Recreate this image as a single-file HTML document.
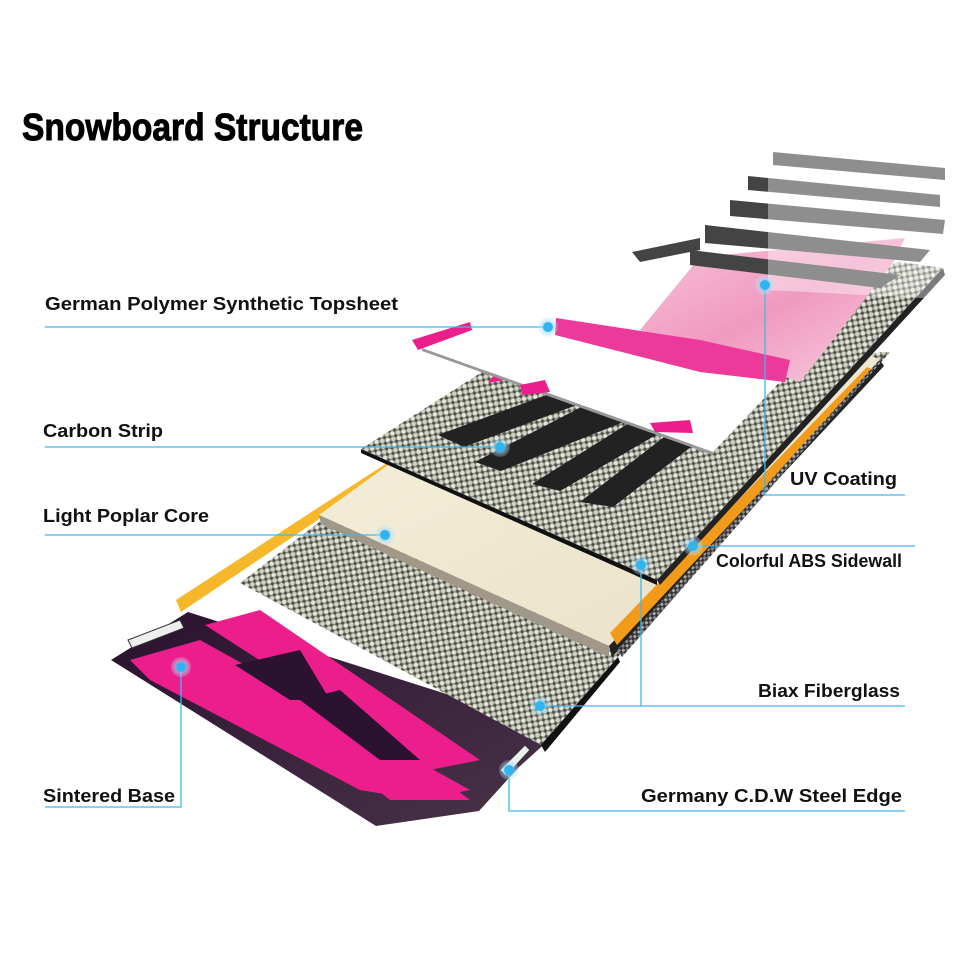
<!DOCTYPE html>
<html><head><meta charset="utf-8"><style>
html,body{margin:0;padding:0;background:#fff;}
svg{display:block;}
.lb{font-family:"Liberation Sans",sans-serif;font-weight:bold;font-size:18px;fill:#111;}
</style></head><body>
<svg width="960" height="960" viewBox="0 0 960 960" xmlns="http://www.w3.org/2000/svg">
<defs>
<pattern id="chk" width="8" height="8" patternUnits="userSpaceOnUse" patternTransform="rotate(35)">
<rect width="8" height="8" fill="#8a8c80"/>
<circle cx="2" cy="2" r="2.2" fill="#e4e6dc"/>
<circle cx="6" cy="6" r="2.2" fill="#d0d2c6"/>
<circle cx="6" cy="2" r="1.4" fill="#4a4c44"/>
<circle cx="2" cy="6" r="1.4" fill="#4a4c44"/>
</pattern>
<pattern id="chkd" width="6" height="6" patternUnits="userSpaceOnUse" patternTransform="rotate(40)">
<rect width="6" height="6" fill="#333"/>
<circle cx="1.5" cy="1.5" r="1.6" fill="#aaa"/>
<circle cx="4.5" cy="4.5" r="1.6" fill="#888"/>
</pattern>
<linearGradient id="wood" x1="0" y1="0" x2="1" y2="1">
<stop offset="0" stop-color="#f6f1dc"/><stop offset="1" stop-color="#e8dfc6"/>
</linearGradient>
<linearGradient id="marble" x1="0" y1="0" x2="1" y2="1">
<stop offset="0" stop-color="#f7c3d8"/><stop offset="0.5" stop-color="#f09ac0"/><stop offset="1" stop-color="#f8d0e0"/>
</linearGradient>
<linearGradient id="base" x1="0" y1="0" x2="1" y2="1">
<stop offset="0" stop-color="#2a1230"/><stop offset="1" stop-color="#4a3448"/>
</linearGradient>
<radialGradient id="dot"><stop offset="0.45" stop-color="#2fb4f0"/><stop offset="0.55" stop-color="#9fdcf8" stop-opacity="0.6"/><stop offset="1" stop-color="#bfe8fb" stop-opacity="0.2"/></radialGradient>
</defs>

<text x="22" y="140" font-family="'Liberation Sans',sans-serif" font-weight="bold" font-size="38" textLength="341" lengthAdjust="spacingAndGlyphs" fill="#000" stroke="#000" stroke-width="1">Snowboard Structure</text>

<!-- Sintered base -->
<polygon points="111,660 188,612 560,730 519,767 479,811 376,826" fill="url(#base)"/>
<g fill="#ec1e8c">
<polygon points="130,660 200,640 470,790 420,800 360,790 150,680"/>
<polygon points="205,625 260,610 480,760 430,770"/>
<polygon points="250,690 300,670 470,800 390,800"/>
</g>
<polygon points="235,665 300,650 330,700 290,700" fill="#2a1230"/>
<polygon points="300,700 340,690 420,760 380,760" fill="#2a1230"/>
<polygon points="128,640 180,620 184,628 132,648" fill="#eee" stroke="#333" stroke-width="1"/>
<polygon points="500,770 525,745 530,750 506,776" fill="#eee" stroke="#333" stroke-width="1"/>

<!-- left sidewall -->
<polygon points="176,600 387,463 392,470 181,612" fill="#f5b82a"/>

<!-- fiberglass -->
<polygon points="240,583 387,470 880,352 890,352 618,657 541,745" fill="url(#chk)"/>
<polygon points="541,745 618,657 620,662 545,752" fill="#111"/>

<!-- core -->
<polygon points="319,515 395,460 870,355 880,360 609,646" fill="url(#wood)"/>
<polygon points="319,515 609,646 609,657 321,524" fill="#a09888"/>
<polygon points="609,646 880,360 884,366 612,657" fill="#222"/>

<!-- right sidewall -->
<polygon points="610,633 867,367 874,370 617,645" fill="#f29a1a"/>
<polygon points="617,650 882,357 890,352 622,657" fill="url(#chkd)"/>

<!-- carbon layer -->
<polygon points="361,449 482,372 900,262 943,268 657,580" fill="url(#chk)"/>
<polygon points="361,449 657,580 657,585 361,453" fill="#111"/>
<polygon points="657,580 943,268 945,275 660,585" fill="#222"/>
<g fill="#222">
<polygon points="438,435 560,390 593,399 464,447"/>
<polygon points="475,462 593,401 631,419 501,471"/>
<polygon points="532,484 629,423 673,425 560,491"/>
<polygon points="580,502 668,434 700,440 613,507"/>
</g>
<polygon points="488,383 500,367 517,372 505,380" fill="#ec1e8c"/>

<!-- topsheet -->
<polygon points="422,348 600,300 770,145 947,183 893,263 713,452" fill="#fff"/>
<polygon points="422,348 713,452 713,455 422,351" fill="#999"/>
<polygon points="640,330 700,257 905,238 893,263 800,382" fill="url(#marble)"/>
<polygon points="556,318 700,340 790,360 785,382 700,372 555,335" fill="#ec3a9a"/>
<polygon points="412,340 470,322 472,330 418,350" fill="#ec1e8c"/>
<polygon points="520,385 545,380 550,392 522,395" fill="#ec1e8c"/>
<polygon points="650,423 690,420 693,433 655,432" fill="#ec1e8c"/>
<g fill="#444">
<polygon points="773,152 945,168 945,180 773,165"/>
<polygon points="748,176 940,195 940,207 748,190"/>
<polygon points="730,200 945,220 943,234 730,216"/>
<polygon points="705,225 930,250 920,262 705,243"/>
<polygon points="690,250 900,275 880,288 690,265"/>
<polygon points="632,252 700,238 700,250 640,262"/>
</g>
<polygon points="768,140 960,160 960,300 768,290" fill="#fff" opacity="0.4"/>

<!-- connectors -->
<g stroke="#3cb8f0" stroke-width="1.3" fill="none">
<polyline points="45,327 548,327"/>
<polyline points="45,447 500,447"/>
<polyline points="45,535 385,535"/>
<polyline points="45,807 181,807 181,667"/>
<polyline points="765,285 765,495 905,495"/>
<polyline points="693,546 915,546"/>
<polyline points="641,565 641,706 905,706"/>
<polyline points="540,706 641,706"/>
<polyline points="509,770 509,811 905,811"/>
</g>
<g fill="url(#dot)">
<circle cx="548" cy="327" r="10"/><circle cx="500" cy="447" r="10"/><circle cx="385" cy="535" r="10"/>
<circle cx="181" cy="667" r="10"/><circle cx="765" cy="285" r="10"/><circle cx="693" cy="546" r="10"/>
<circle cx="641" cy="565" r="10"/><circle cx="540" cy="706" r="10"/><circle cx="509" cy="770" r="10"/>
</g>

<text class="lb" x="45" y="310" textLength="353" lengthAdjust="spacingAndGlyphs">German Polymer Synthetic Topsheet</text>
<text class="lb" x="43" y="437" textLength="120" lengthAdjust="spacingAndGlyphs">Carbon Strip</text>
<text class="lb" x="43" y="522" textLength="166" lengthAdjust="spacingAndGlyphs">Light Poplar Core</text>
<text class="lb" x="43" y="802" textLength="132" lengthAdjust="spacingAndGlyphs">Sintered Base</text>
<text class="lb" x="790" y="485" textLength="107" lengthAdjust="spacingAndGlyphs">UV Coating</text>
<text class="lb" x="716" y="567" textLength="186" lengthAdjust="spacingAndGlyphs">Colorful ABS Sidewall</text>
<text class="lb" x="758" y="697" textLength="142" lengthAdjust="spacingAndGlyphs">Biax Fiberglass</text>
<text class="lb" x="641" y="802" textLength="261" lengthAdjust="spacingAndGlyphs">Germany C.D.W Steel Edge</text>
</svg>
</body></html>
